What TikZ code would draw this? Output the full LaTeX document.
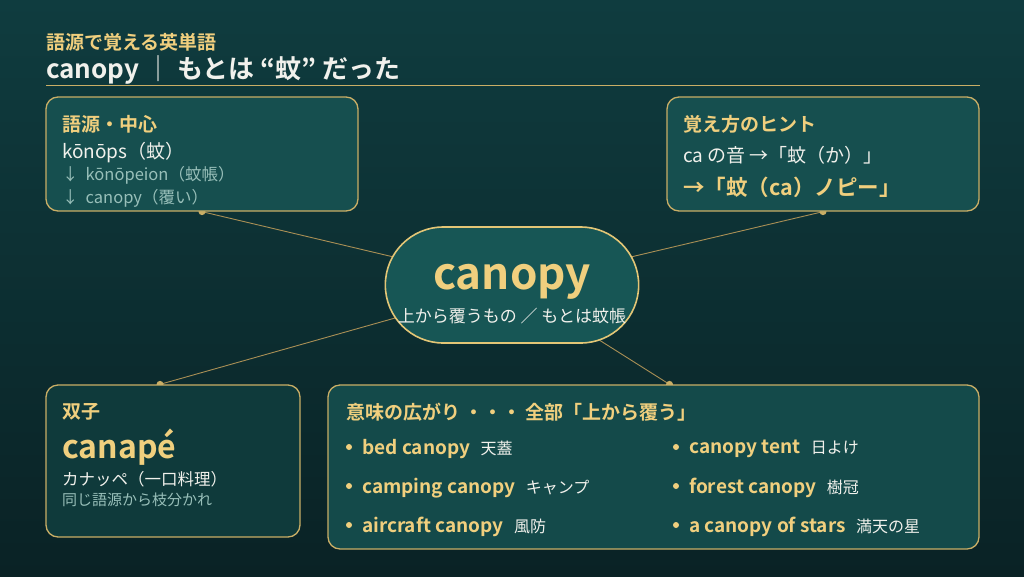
\documentclass[tikz,border=0pt]{standalone}
\usepackage{fontspec}
\setmainfont{Noto Sans CJK JP}[BoldFont={Noto Sans CJK JP Bold}]
\usetikzlibrary{positioning}
\usetikzlibrary{shapes.misc}

\pgfdeclarelayer{bg}
\pgfdeclarelayer{wires}
\pgfsetlayers{bg,wires,main}

\begin{document}
\begin{tikzpicture}[x=1pt,y=-1pt,
	card/.style={draw=rim, line width=1.3pt, rounded corners=12pt, inner sep=0pt},
	head/.style={anchor=west, inner sep=0pt, text=gold, font=\bfseries\fontsize{19}{23}\selectfont},
	body/.style={anchor=west, inner sep=0pt, text=ink, font=\fontsize{19}{23}\selectfont},
	note/.style={anchor=west, inner sep=0pt, text=mute, font=\fontsize{16.5}{20}\selectfont},
	term/.style={anchor=west, inner sep=0pt, text=gold, font=\bfseries\fontsize{19}{23}\selectfont},
	gloss/.style={anchor=base west, inner sep=0pt, text=ink, font=\fontsize{16}{20}\selectfont},
	link/.style={draw=wire, line width=0.9pt},
	tip/.style={circle, fill=rim, inner sep=0pt, minimum size=7pt},
	pip/.style={circle, fill=gold, inner sep=0pt, minimum size=6pt}]
	
	\definecolor{bgtop}{HTML}{0F3C3F}
	\definecolor{bgbot}{HTML}{0A2225}
	\definecolor{cardtop}{HTML}{164F4F}
	\definecolor{cardlow}{HTML}{0F3A3B}
	\definecolor{cardmid}{HTML}{144A4A}
	\definecolor{corefill}{HTML}{175655}
	\definecolor{rim}{HTML}{C9AE66}
	\definecolor{rimlight}{HTML}{E3C676}
	\definecolor{gold}{HTML}{F0CF7E}
	\definecolor{ink}{HTML}{F1F1EC}
	\definecolor{mute}{HTML}{98BFB9}
	\definecolor{wire}{HTML}{A98F55}
	
	\useasboundingbox (0,0) rectangle (1024,576);
	\begin{pgfonlayer}{bg}
	\shade[top color=bgtop, bottom color=bgbot] (0,0) rectangle (1024,576);
	\end{pgfonlayer}
	
	% title
	\node[head] (series) at (46,42) {語源で覚える英単語};
	\node[anchor=west, inner sep=0pt, text=ink, font=\bfseries\fontsize{26}{30}\selectfont] (title) at (46,70) {canopy {\mdseries ｜} もとは “蚊” だった};
	\coordinate (ruleA) at (46,85);
	\coordinate (ruleB) at (980,85);
	\draw[draw=rim, line width=1pt] (ruleA) -- (ruleB);
	
	% boxes
	\node[card, fill=cardtop, minimum width=312pt, minimum height=114pt] (origin) at (202,154) {};
	\node[card, fill=cardtop, minimum width=312pt, minimum height=114pt] (hint) at (823,154) {};
	\node[card, fill=cardlow, minimum width=254pt, minimum height=152pt] (twin) at (173,461) {};
	\node[card, fill=cardmid, minimum width=651pt, minimum height=164pt] (usage) at (653.5,467) {};
	\node[rounded rectangle, draw=rimlight, line width=1.6pt, fill=corefill, minimum width=260pt, minimum height=116pt] (core) at (512,285) {};
	
	% center
	\node[inner sep=0pt, text=gold, font=\bfseries\fontsize{44}{48}\selectfont] (coreword) at (512,282) {canopy};
	\node[inner sep=0pt, text=ink, font=\fontsize{17}{20}\selectfont] (coresub) at (512,316) {上から覆うもの ／ もとは蚊帳};
	
	% origin
	\node[head] (originhead) at (62,124) {語源・中心};
	\node[body] (konops) at (62,153) {kōnōps（蚊）};
	\node[note] (konopeion) at (62,175) {↓\hspace{7pt}kōnōpeion（蚊帳）};
	\node[note] (canopyold) at (62,198) {↓\hspace{7pt}canopy（覆い）};
	
	% hint
	\node[head] (hinthead) at (683,124) {覚え方のヒント};
	\node[body] (sound) at (683,155) {ca の音 →「蚊（か）」};
	\node[anchor=west, inner sep=0pt, text=gold, font=\bfseries\fontsize{21.5}{25}\selectfont] (pun) at (683,187) {→「蚊（ca）ノピー」};
	
	% twin
	\node[head] (twinhead) at (62,412) {双子};
	\node[anchor=west, inner sep=0pt, text=gold, font=\bfseries\fontsize{32}{36}\selectfont] (canape) at (62,447) {canapé};
	\node[anchor=west, inner sep=0pt, text=ink, font=\fontsize{16.5}{20}\selectfont] (canapeja) at (62,479) {カナッペ（一口料理）};
	\node[anchor=west, inner sep=0pt, text=mute, font=\fontsize{15}{18}\selectfont] (branch) at (62,500) {同じ語源から枝分かれ};
	
	% usage
	\node[head] (usagehead) at (346,412) {意味の広がり ・・・ 全部「上から覆う」};
	\node[pip] (pipA) at (349,447) {};
	\node[term] (bed) at (362,449) {bed canopy};
	\node[gloss] (bedja) at ([xshift=10pt]bed.base east) {天蓋};
	\node[pip] (pipB) at (349,486) {};
	\node[term] (camping) at (362,488) {camping canopy};
	\node[gloss] (campingja) at ([xshift=10pt]camping.base east) {キャンプ};
	\node[pip] (pipC) at (349,525) {};
	\node[term] (aircraft) at (362,527) {aircraft canopy};
	\node[gloss] (aircraftja) at ([xshift=10pt]aircraft.base east) {風防};
	\node[pip] (pipD) at (676,447) {};
	\node[term] (tent) at (689,449) {canopy tent};
	\node[gloss] (tentja) at ([xshift=10pt]tent.base east) {日よけ};
	\node[pip] (pipE) at (676,486) {};
	\node[term] (forest) at (689,488) {forest canopy};
	\node[gloss] (forestja) at ([xshift=10pt]forest.base east) {樹冠};
	\node[pip] (pipF) at (676,525) {};
	\node[term] (stars) at (689,527) {a canopy of stars};
	\node[gloss] (starsja) at ([xshift=10pt]stars.base east) {満天の星};
	
	% connectors
	\coordinate (twinport) at ([xshift=-13pt]twin.north);
	\coordinate (usageport) at ([xshift=16pt]usage.north);
	\begin{pgfonlayer}{wires}
	\draw[link] (core) -- (origin.south) node[tip] (tipA) {};
	\draw[link] (core) -- (hint.south) node[tip] (tipB) {};
	\draw[link] (core) -- (twinport) node[tip] (tipC) {};
	\draw[link] (core) -- (usageport) node[tip] (tipD) {};
	\end{pgfonlayer}
\end{tikzpicture}
\end{document}
